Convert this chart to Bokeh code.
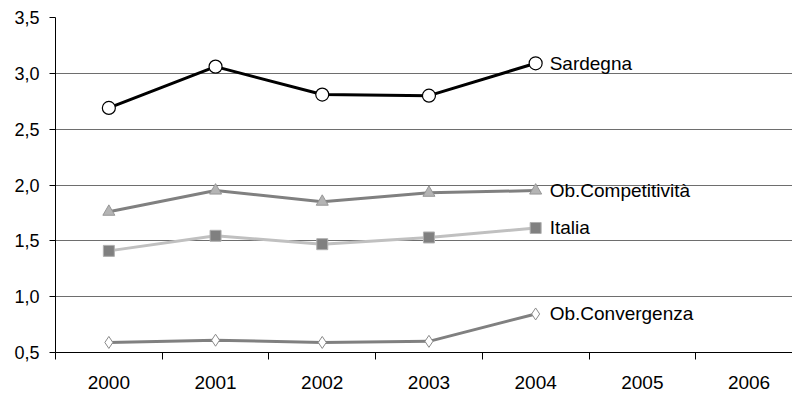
from bokeh.plotting import figure
from bokeh.models import FixedTicker, ColumnDataSource
from bokeh.core.properties import value
from bokeh.embed import file_html
from bokeh.resources import INLINE

years = [2000, 2001, 2002, 2003, 2004, 2005, 2006]
data_years = [2000, 2001, 2002, 2003, 2004]
sardegna = [2.69, 3.06, 2.81, 2.80, 3.09]
competitivita = [1.76, 1.95, 1.85, 1.93, 1.95]
italia = [1.41, 1.545, 1.47, 1.53, 1.615]
convergenza = [0.59, 0.61, 0.59, 0.60, 0.845]
labels = ["Sardegna", "Ob.Competitività", "Italia", "Ob.Convergenza"]
y_ticks = [0.5, 1.0, 1.5, 2.0, 2.5, 3.0, 3.5]

FONT = "Liberation Sans"

p = figure(width=792, height=395, frame_width=737, frame_height=335,
           x_range=(1999.5, 1999.5 + 737 / 106.7), y_range=(0.5, 3.5),
           output_backend="svg", toolbar_location=None,
           min_border_left=55, min_border_right=0, min_border_top=17, min_border_bottom=0)
p.outline_line_color = None
p.background_fill_color = "white"

# axes
p.xaxis.ticker = FixedTicker(ticks=years, minor_ticks=[y - 0.5 for y in years] + [years[-1] + 0.5])
p.xaxis.major_tick_out = 0
p.xaxis.major_tick_in = 0
p.xaxis.minor_tick_out = 7
p.xaxis.minor_tick_in = 0
p.xaxis.minor_tick_line_color = "black"
p.xaxis.axis_line_color = "black"
p.xaxis.major_label_text_font = FONT
p.xaxis.major_label_text_font_size = "19px"
p.xaxis.major_label_text_color = "black"
p.xaxis.major_label_standoff = 16

p.yaxis.ticker = FixedTicker(ticks=y_ticks, minor_ticks=[])
p.yaxis.major_label_overrides = {v: f"{v:.1f}".replace(".", ",") for v in y_ticks}
p.yaxis.major_tick_out = 6
p.yaxis.major_tick_in = 0
p.yaxis.major_tick_line_color = "black"
p.yaxis.axis_line_color = "black"
p.yaxis.major_label_text_font = FONT
p.yaxis.major_label_text_font_size = "18px"
p.yaxis.major_label_text_color = "black"
p.yaxis.major_label_standoff = 10

p.xgrid.grid_line_color = None
p.ygrid.grid_line_color = "#6e6e6e"
p.ygrid.grid_line_width = 1

# series
p.line(data_years, convergenza, line_color="#808080", line_width=3)
p.scatter(data_years, convergenza, marker="diamond", size=12, fill_color="white", line_color="#8a8a8a", line_width=1)

p.line(data_years, italia, line_color="#c0c0c0", line_width=3)
p.scatter(data_years, italia, marker="square", size=11, fill_color="#808080", line_color="#b0b0b0", line_width=1)

p.line(data_years, competitivita, line_color="#808080", line_width=3)
p.scatter(data_years, competitivita, marker="triangle", size=12, fill_color="#b4b4b4", line_color="#969696", line_width=1)

p.line(data_years, sardegna, line_color="black", line_width=3)
p.scatter(data_years, sardegna, marker="circle", size=13, fill_color="white", line_color="black", line_width=1.2)

last = [sardegna[-1], competitivita[-1], italia[-1], convergenza[-1]]
src = ColumnDataSource(dict(x=[data_years[-1]] * 4, y=last, t=labels))
p.text(x="x", y="y", text="t", source=src, x_offset=14, text_baseline="middle",
       text_align="left", text_font=value(FONT), text_font_size="19px", text_color="black")

open("out.html", "w").write(file_html(p, INLINE))
